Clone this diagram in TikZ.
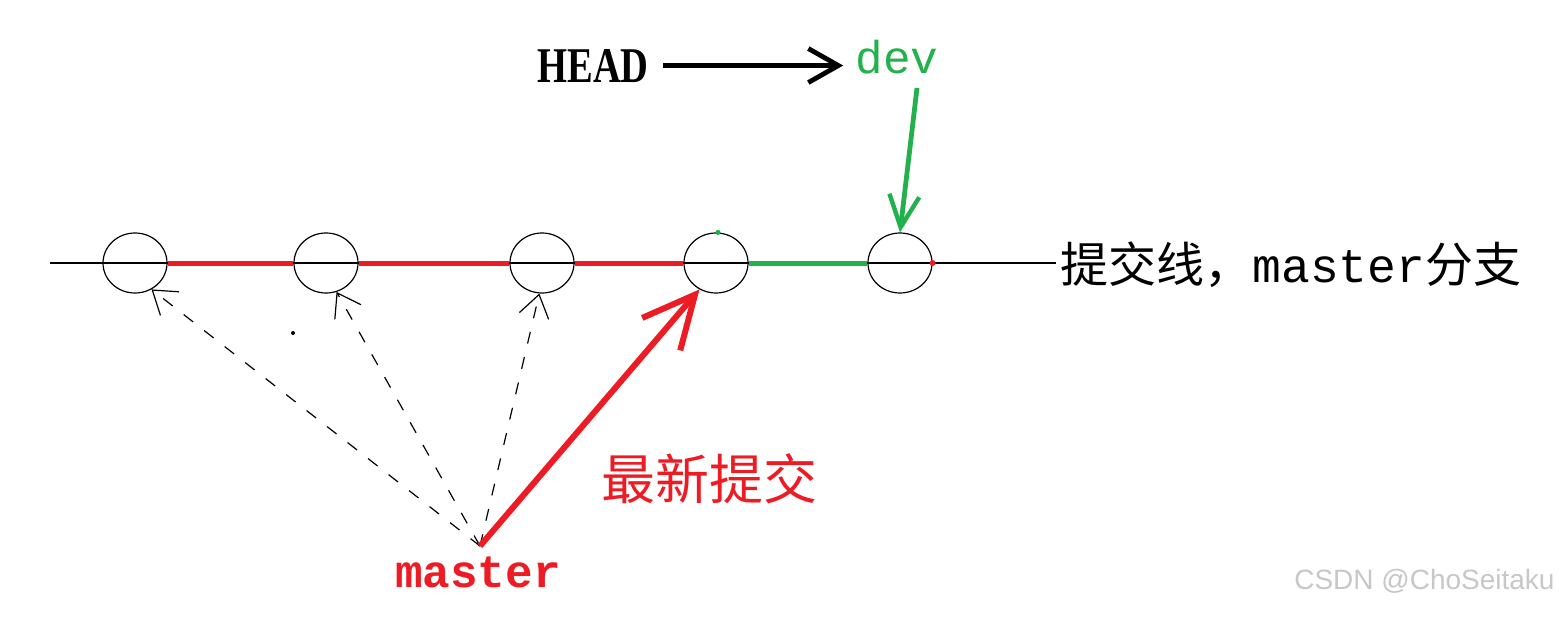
\documentclass[tikz,border=0pt]{standalone}
\usepackage{fontspec}
\setmainfont{Liberation Serif}
\newfontfamily\cjkf{Noto Sans CJK SC}
\newfontfamily\monof{Liberation Mono}
\newfontfamily\wmf{Liberation Sans}
\usetikzlibrary{shapes.geometric,arrows.meta}
\definecolor{pred}{RGB}{237,28,36}
\definecolor{pgreen}{RGB}{34,177,76}
\begin{document}
\begin{tikzpicture}[x=0.5pt,y=-0.5pt,
  commit/.style={ellipse,draw=black,line width=0.6pt,minimum width=32pt,minimum height=30pt,inner sep=0pt},
  mainline/.style={draw=black,line width=0.75pt},
  redseg/.style={draw=pred,line width=2.5pt},
  greenseg/.style={draw=pgreen,line width=2.5pt},
  headarrow/.style={draw=black,line width=2.2pt,-{Straight Barb[length=15pt,width=17pt,line width=2.4pt]}},
  devarrow/.style={draw=pgreen,line width=2.4pt,-{Straight Barb[length=16pt,width=15pt,line width=2.2pt]}},
  newarrow/.style={draw=pred,line width=3pt,-{Straight Barb[length=26pt,width=25pt,line width=3pt]}},
  oldarrow/.style={draw=black,line width=0.6pt,dash pattern=on 6pt off 7pt,-{Straight Barb[length=11pt,width=15pt,line width=0.6pt]}},
  lbl/.style={inner sep=0pt}
]
\useasboundingbox (0,0) rectangle (1564,616);

% commits
\node[commit] (c1) at (135,263) {};
\node[commit] (c2) at (326,263) {};
\node[commit] (c3) at (542,263) {};
\node[commit] (c4) at (716,263) {};
\node[commit] (c5) at (900,263) {};

% commit line
\coordinate (lstart) at (50,263);
\coordinate (lend) at (1056,263);
\draw[mainline] (lstart) -- (lend);
\draw[redseg] (c1.east) -- (c2.west);
\draw[redseg] (c2.east) -- (c3.west);
\draw[redseg] (c3.east) -- (c4.west);
\draw[greenseg] (c4.east) -- (c5.west);
\fill[pred] (c5.east) circle (1.5pt);
\fill[pgreen] ([xshift=1pt]c4.north) circle (1.3pt);
\fill[black] (293,333) circle (1pt);

% labels
\node[lbl,anchor=west,font=\fontsize{24}{28}\selectfont] (linelbl) at (1060,265)
  {{\cjkf 提交线，}{\monof master}{\cjkf 分支}};
\node[lbl,anchor=base,font=\bfseries\fontsize{25}{30}\selectfont] (head) at (593,82) {\scalebox{0.77}[1]{HEAD}};
\node[lbl,anchor=base,font=\monof\fontsize{23}{28}\selectfont,text=pgreen] (dev) at (897,73) {dev};
\node[lbl,anchor=base,font=\monof\bfseries\fontsize{23}{28}\selectfont,text=pred] (master) at (478,587) {master};
\node[lbl,font=\cjkf\fontsize{27}{32}\selectfont,text=pred] (latest) at (709,479) {最新提交};
\node[lbl,anchor=east,font=\wmf\fontsize{14}{17}\selectfont,text=black!22] (wm) at (1555,581) {CSDN @ChoSeitaku};

% connectors
\coordinate (devfoot) at (917,88);
\coordinate (mtip) at (480,546);
\draw[headarrow] ([xshift=7pt]head.east) -- ([xshift=-6pt]head.east -| dev.west);
\draw[devarrow] (devfoot) -- (c5.north);
\draw[oldarrow] (mtip) -- (c1.-58);
\draw[oldarrow] (mtip) -- (c2.-70);
\draw[oldarrow] (mtip) -- (c3.-95);
\draw[newarrow] (mtip) -- (c4.-122);
\end{tikzpicture}
\end{document}
